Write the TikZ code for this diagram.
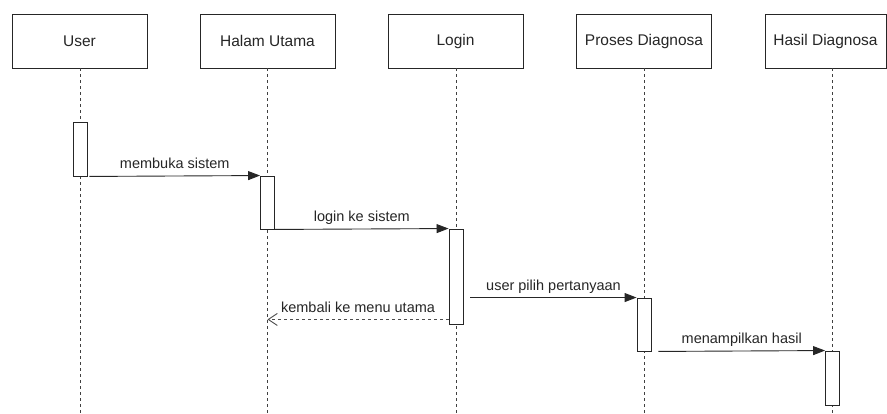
\documentclass[tikz,border=0pt]{standalone}
\usepackage{fontspec}
\setmainfont{Liberation Sans}
\usetikzlibrary{arrows.meta}
\begin{document}
\begin{tikzpicture}[x=1pt,y=-1pt,
  lifehead/.style={draw=black!85, line width=0.9pt, fill=white,
    minimum width=135pt, minimum height=54pt, inner sep=0pt,
    font=\fontsize{15.5}{18}\selectfont, text=black!85},
  lifeline/.style={draw=black!75, line width=0.8pt, dash pattern=on 3pt off 3pt},
  actbox/.style={draw=black!85, line width=0.9pt, fill=white,
    minimum width=14pt, inner sep=0pt},
  msg/.style={draw=black!85, line width=0.9pt,
    -{Triangle[length=12pt,width=9pt]}},
  reply/.style={draw=black!70, line width=0.9pt, dash pattern=on 3pt off 3pt,
    -{Straight Barb[length=9pt,width=12pt,line width=0.9pt]}},
  msglabel/.style={midway, anchor=base, yshift=7pt, inner sep=0pt,
    font=\fontsize{14.5}{17}\selectfont, text=black!85}]

\useasboundingbox (0,0) rectangle (887,414);

% participants
\node[lifehead] (user)  at (79.5,41)  {User};
\node[lifehead] (halam) at (267.5,41) {Halam Utama};
\node[lifehead] (login) at (455.5,41) {Login};
\node[lifehead] (proses) at (644,41)  {Proses Diagnosa};
\node[lifehead, minimum width=121pt] (hasil) at (825.5,41) {Hasil Diagnosa};

% lifeline ends
\coordinate (userEnd)   at (80,414);
\coordinate (halamEnd)  at (267.5,414);
\coordinate (loginEnd)  at (456,414);
\coordinate (prosesEnd) at (644,414);
\coordinate (hasilEnd)  at (832,414);

\draw[lifeline] (user.south -| userEnd) -- (userEnd);
\draw[lifeline] (halam.south -| halamEnd) -- (halamEnd);
\draw[lifeline] (login.south -| loginEnd) -- (loginEnd);
\draw[lifeline] (proses.south -| prosesEnd) -- (prosesEnd);
\draw[lifeline] (hasil.south -| hasilEnd) -- (hasilEnd);

% activations
\node[actbox, minimum height=54pt] (ua) at (80,149)    {};
\node[actbox, minimum height=53pt] (ha) at (267.5,202.5) {};
\node[actbox, minimum height=95pt] (la) at (456,276.5)  {};
\node[actbox, minimum height=53pt] (pa) at (644,324.5)  {};
\node[actbox, minimum height=54pt] (ka) at (832.5,378)  {};

% messages
\draw[msg] ([xshift=2pt]ua.south east) -- (ha.north west)
  node[msglabel] {membuka sistem};
\draw[msg] (ha.south east) -- (la.north west)
  node[msglabel] {login ke sistem};
\draw[msg] ([xshift=7pt]la.east |- pa.north west) -- (pa.north west)
  node[msglabel] {user pilih pertanyaan};
\draw[reply] ([yshift=5pt]la.south west) -- ([yshift=5pt]ha.center |- la.south west)
  node[msglabel] {kembali ke menu utama};
\draw[msg] ([xshift=7pt]pa.south east) -- (ka.north west)
  node[msglabel] {menampilkan hasil};
\end{tikzpicture}
\end{document}
